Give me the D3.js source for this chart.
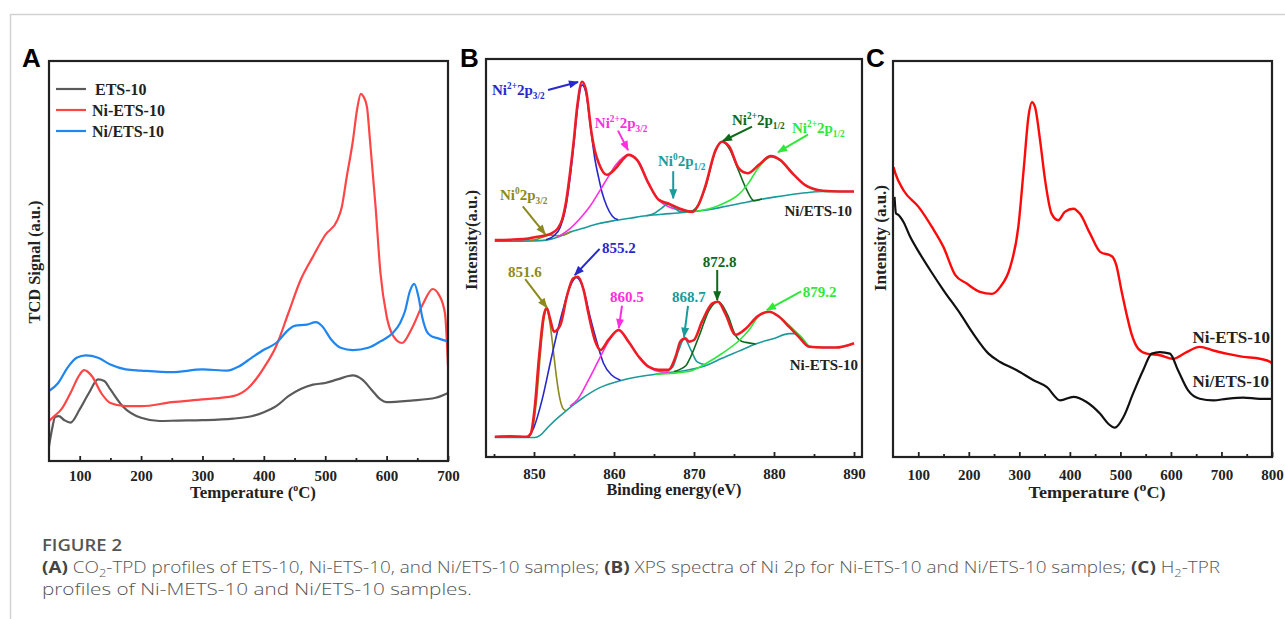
<!DOCTYPE html>
<html>
<head>
<meta charset="utf-8">
<script src="https://cdn.jsdelivr.net/npm/d3@7"></script>
<style>
  body { margin: 0; background: #fff; }
  svg { display: block; }
</style>
</head>
<body>
<svg id="fig" width="1285" height="619"></svg>
<script>
// ---------- panel A : CO2-TPD ----------
var tpdTicks = [100, 200, 300, 400, 500, 600, 700];
var tpdMinor = [150, 250, 350, 450, 550, 650];
var tpdNames = ["ETS-10", "Ni-ETS-10", "Ni/ETS-10"];
var tpdEts = [[50,3.7],[55,8],[60,11],[66,11.2],[75,10.2],[85,9.6],[100,12.9],[115,17.0],[130,20.4],[140,20.0],[150,17.9],[170,13.7],[200,10.8],[230,10.0],[260,10.1],[300,10.2],[350,10.6],[380,11.2],[400,12.2],[420,13.7],[440,16.2],[460,18.0],[480,19.1],[500,19.5],[520,20.4],[545,21.4],[560,20.4],[575,17.9],[590,15.4],[600,14.7],[640,15.1],[680,15.8],[700,17.0]];
var tpdNiEts = [[50,10.0],[60,11.4],[70,12.9],[85,17.0],[100,21.6],[107,22.7],[120,21.2],[135,17.0],[150,14.5],[175,13.7],[200,13.7],[250,14.7],[300,15.4],[350,16.2],[375,18.3],[400,23.3],[420,28.7],[440,37.0],[460,45.3],[480,51.1],[500,56.5],[520,60.3],[527,63.5],[535,71],[545,80],[552,88],[558,91.8],[562,91.2],[568,88.5],[573,80.0],[582,63.6],[590,47.0],[600,36.2],[611,31.2],[625,29.5],[640,32.8],[660,39.5],[675,43.0],[685,41.6],[695,37.0],[700,23.7]];
var tpdNiSlash = [[50,17.5],[65,19.5],[80,23.3],[95,25.8],[110,26.4],[130,25.8],[150,24.1],[175,22.9],[200,22.6],[250,22.2],[300,22.9],[340,22.6],[360,23.7],[380,25.8],[400,27.8],[420,29.5],[440,32.8],[450,33.8],[470,34.1],[485,34.7],[495,33.7],[510,30.3],[525,28.3],[545,27.7],[570,28.3],[590,29.9],[610,32.0],[622,34.5],[630,37.5],[638,42.5],[645,44.3],[652,41],[658,36],[665,32.5],[672,31.3],[685,30.6],[700,29.9]];

// ---------- panel B : XPS Ni 2p ----------
var xpsTicks = [850, 860, 870, 880, 890];
var xpsMinor = [845, 855, 865, 875, 885];
// upper spectrum, Ni/ETS-10
var topFit = [[845.1,54.5],[847,54.6],[849,54.8],[850.1,55.2],[851.2,55.6],[852.2,56.2],[853,57.5],[853.5,59.5],[854,64],[854.5,71.3],[855,80],[855.4,88.0],[856.0,94.3],[856.5,92.2],[857.2,81.3],[857.6,77],[858.1,73.8],[859.1,70.9],[860.2,72.5],[861.0,74.5],[861.8,75.9],[862.9,74.6],[864.3,68.8],[865.6,64.6],[866.8,63.7],[868.1,62.5],[869.8,61.6],[870.6,63.5],[871.4,67.9],[872.7,77.1],[873.5,79.2],[874.4,78.0],[875.6,72.5],[876.7,71.3],[878.1,73.4],[879.6,75.6],[880.8,74.6],[882.3,71.3],[883.9,68.3],[886.1,66.9],[888.2,66.7],[890,66.7]];
var topBase = [[845.1,54.2],[850,54.3],[851.5,54.5],[853,55.3],[854.5,56.5],[856,57.4],[858,58.6],[860,59.4],[862,60.0],[864,60.6],[866,61.0],[868,61.3],[870,61.7],[872,62.2],[874,63.0],[876,63.8],[878,64.6],[880,65.3],[882,65.9],[884,66.4],[886,66.7],[890,66.7]];
var topNi0a = [[849.5,54.4],[850.5,54.8],[851.3,55.4],[852,55.8],[852.8,55.6],[853.6,55.7],[854.5,56.5]];
var topNi2a = [[851.5,54.6],[852.5,55.6],[853.3,57.8],[854,63],[854.5,70],[855,79],[855.4,87.0],[856.0,93.5],[856.5,91.5],[857.0,84],[857.6,75],[858.1,70],[858.5,66.5],[859.1,63.0],[859.8,60.5],[860.5,59.6]];
var topSat2a = [[853,55.3],[854.5,57.4],[856,60.5],[857,63.0],[858.1,66.5],[859.1,69.8],[860.2,73.3],[861.8,75.9],[863.1,74.2],[864.3,68.8],[865.6,64.6],[866.8,62.9],[868.5,62.0],[870,61.8]];
var topNi0b = [[864,60.6],[865,61.2],[866,62.6],[866.7,63.5],[867.4,62.8],[868.3,61.6],[869.5,61.6]];
var topNi2b = [[869.5,61.6],[870.2,62.4],[871.4,67.5],[872.7,77.0],[873.5,79.2],[874.4,77.5],[875.6,71.8],[876.5,67.5],[877.5,64.4],[878.5,64.8]];
var topSat2b = [[869,61.5],[871,62.0],[872.7,62.9],[874.5,64.5],[875.6,66.0],[876.7,68.5],[878.1,72.8],[879.6,75.4],[880.8,74.5],[882.3,71.3],[883.9,68.3],[885.5,66.9],[887,66.7]];
// lower spectrum, Ni-ETS-10
var botFit = [[845.1,5.1],[847,5.2],[849.1,5.1],[849.6,5.9],[850.1,12.6],[850.6,24.4],[851.2,35.3],[851.6,37.4],[852.0,34.8],[852.5,31.5],[853.3,33.2],[854.1,40.3],[854.9,44.9],[855.5,45.3],[856.2,42.0],[856.8,36.1],[857.6,29.4],[858.3,26.9],[859.3,29.4],[860.6,31.9],[861.8,29.0],[863.1,25.2],[864.3,22.7],[865.6,21.9],[866.8,21.9],[867.7,25.2],[868.3,29.0],[868.9,29.8],[869.4,29.0],[870.0,29.4],[871.0,34.0],[872.3,38.6],[873.0,39.0],[873.9,36.1],[875.2,30.7],[876.5,32.3],[877.9,35.3],[879.4,36.5],[880.6,35.3],[881.9,32.7],[883.1,30.2],[884.4,27.7],[886.1,27.5],[887.7,27.5],[890.0,28.6]];
var botBase = [[845.1,4.9],[850.1,4.9],[850.8,5.5],[851.8,7.6],[853.0,9.9],[853.9,11.4],[855,13.2],[856.0,14.7],[858.1,17.3],[861.0,19.3],[865.2,20.8],[869.4,21.9],[871.5,23.0],[873.5,24.8],[875.6,26.6],[877.7,28.4],[880,29.8],[881.9,31.0],[882.6,31.0],[883.5,29.5],[884.4,27.7],[886.1,27.5],[887.7,27.5],[890,28.6]];
var botNi0a = [[849.3,5.0],[849.8,7],[850.3,14],[850.8,26],[851.3,35.5],[851.6,37.2],[852.0,33.5],[852.4,27],[852.8,20.2],[853.2,15],[853.6,12.3],[854.0,11.6]];
var botNi2a = [[849.3,4.9],[850.0,7.5],[851.0,14.3],[852.2,25.2],[853.5,36.1],[854.5,42.8],[855.3,45.1],[856.2,42.0],[857.0,35.3],[857.9,28.6],[858.7,23.5],[859.7,20.6],[860.8,19.3]];
var botSat2a = [[854.5,12.8],[855.5,14.6],[856.8,19.3],[858.1,24.4],[859.3,29.0],[860.5,31.9],[861.8,29.0],[863.1,25.2],[864.3,22.7],[865.6,21.5],[867,21.3]];
var botNi0b = [[866.5,21.6],[867.3,22.5],[868.1,26.9],[868.8,29.8],[869.6,26.9],[870.4,23.9],[871.4,23.2]];
var botNi2b = [[867.5,21.5],[869.0,23.0],[869.4,24.4],[870.6,30.2],[871.9,36.9],[873.0,39.0],[874.2,35.7],[875.2,30.5],[876.0,29.0],[876.5,28.8],[877.7,28.4]];
var botSat2b = [[865.2,20.8],[869.4,21.5],[871.5,23.5],[873.5,26.0],[875.6,29.2],[876.9,32.0],[878.1,35.4],[879.4,36.5],[880.8,35.0],[882.3,32.3],[883.5,30.0],[884.4,27.9],[885.5,27.5]];
// peak labels: text parts, anchor [eV, a.u.], arrow from, arrow to
var topNotes = [
  [["Ni", ["2+", "sup"], "2p", ["3/2", "sub"]], [844.75, 91], [851.75, 92.2], [855.5, 94.2]],
  [["Ni", ["2+", "sup"], "2p", ["3/2", "sub"]], [857.6, 82.7], [860.5, 82.0], [861.75, 77.1]],
  [["Ni", ["0", "sup"], "2p", ["1/2", "sub"]], [865.5, 73.1], [867.4, 71.8], [867.4, 65.0]],
  [["Ni", ["2+", "sup"], "2p", ["1/2", "sub"]], [874.75, 83.4], [877.25, 83.0], [873.6, 79.4]],
  [["Ni", ["2+", "sup"], "2p", ["1/2", "sub"]], [882.25, 81.4], [884.25, 81.0], [880.5, 76.6]],
  [["Ni", ["0", "sup"], "2p", ["3/2", "sub"]], [845.75, 64.6], [848.6, 63.0], [851.4, 56.0]]
];
var botNotes = [
  [["855.2"], [858.5, 51.3], [858.2, 52.3], [855.1, 45.7]],
  [["851.6"], [846.75, 45.2], [848.9, 44.7], [851.6, 37.6]],
  [["860.5"], [859.5, 38.9], [861.0, 38.0], [860.6, 32.4]],
  [["868.7"], [867.25, 38.9], [869.25, 38.0], [868.75, 30.2]],
  [["872.8"], [871.1, 47.7], [872.9, 47.0], [872.9, 39.4]],
  [["879.2"], [883.6, 40.2], [883.4, 41.6], [879.1, 36.9]]
];
var xpsSamples = ["Ni/ETS-10", "Ni-ETS-10"];
var xpsSampleAt = [[889.75, 60.6], [890.5, 21.9]];

// ---------- panel C : H2-TPR ----------
var tprTicks = [100, 200, 300, 400, 500, 600, 700, 800];
var tprMinor = [150, 250, 350, 450, 550, 650, 750];
var tprNames = ["Ni-ETS-10", "Ni/ETS-10"];
var tprNameAt = [[796, 28.8], [794, 17.7]];
var tprNiEts = [[51,73.2],[55,71.5],[71,67.3],[101,63.1],[127,58.1],[150,53.0],[173,46.0],[196,43.8],[222,41.7],[246,41.2],[262,42.9],[282,48.0],[298,58.1],[309,73.2],[318,85.9],[325,89.6],[331,88.4],[341,80.0],[351,69.9],[364,61.4],[377,59.8],[390,61.9],[407,62.7],[420,61.4],[440,56.4],[460,51.8],[483,50.7],[492,48.4],[502,42.1],[512,36.2],[522,31.1],[535,27.4],[552,26.1],[578,25.7],[604,24.8],[631,26.5],[657,27.8],[684,26.9],[710,26.1],[743,25.3],[776,24.8],[797,24.0],[800,23.5]];
var tprNiSlash = [[53,65.7],[56,61.5],[60,61.2],[71,59.3],[84,55.6],[101,51.8],[124,47.1],[150,42.1],[183,36.2],[209,31.1],[239,26.1],[262,24.0],[295,21.9],[328,19.4],[354,17.7],[381,14.3],[407,15.2],[433,13.9],[460,10.9],[476,8.4],[489,7.4],[506,10.1],[525,16.0],[545,21.9],[562,26.1],[578,26.5],[598,26.1],[614,21.9],[634,16.8],[657,14.7],[684,14.3],[710,14.7],[743,15.0],[776,14.7],[800,14.7]];

// ---------- drawing ----------
var serif = '"Liberation Serif", "Times New Roman", serif';
var svg = d3.select("#fig");
svg.append("rect").attr("width", 1285).attr("height", 619).attr("fill", "#fff");

// page frame
svg.append("path").attr("d", "M10.5,619V14.5H1285")
  .attr("fill", "none").attr("stroke", "#d2d2d2").attr("stroke-width", 1.5);

var defs = svg.append("defs");
function arrowHead(color) {
  var id = "ah" + color.replace("#", "");
  if (defs.select("#" + id).empty()) {
    defs.append("marker").attr("id", id)
      .attr("viewBox", "0 0 10 8").attr("refX", 9).attr("refY", 4)
      .attr("markerWidth", 11).attr("markerHeight", 8)
      .attr("markerUnits", "userSpaceOnUse").attr("orient", "auto")
      .append("path").attr("d", "M0,0L10,4L0,8Z").attr("fill", color);
  }
  return "url(#" + id + ")";
}

// text with sup / sub parts
function richText(sel, parts, size) {
  var cur = 0;
  parts.forEach(function (p) {
    var txt = typeof p === "string" ? p : p[0];
    var kind = typeof p === "string" ? "" : p[1];
    var target = kind === "sup" ? -0.42 * size : kind === "sub" ? 0.28 * size : 0;
    sel.append("tspan").attr("dy", target - cur)
      .attr("font-size", kind ? size * 0.62 : size).text(txt);
    cur = target;
  });
}

function panel(box, xDomain, major, minor, pad) {
  var g = svg.append("g");
  var x = d3.scaleLinear().domain(xDomain).range([box.l, box.r]);
  var y = d3.scaleLinear().domain([0, 100]).range([box.b, box.t]);
  var ax = g.append("g").attr("transform", "translate(0," + box.b + ")")
    .call(d3.axisBottom(x).tickValues(major).tickSize(-5).tickPadding(pad).tickFormat(d3.format("d")));
  var mi = g.append("g").attr("transform", "translate(0," + box.b + ")")
    .call(d3.axisBottom(x).tickValues(minor).tickSize(-3).tickFormat(""));
  [ax, mi].forEach(function (a) {
    a.select(".domain").remove();
    a.selectAll("line").attr("stroke", "#222").attr("stroke-width", 1.8);
  });
  ax.attr("font-family", null).attr("font-size", null);
  ax.selectAll("text").style("font-family", serif).style("font-weight", "bold")
    .style("font-size", "15px").attr("fill", "#222");
  return { g: g, x: x, y: y, box: box };
}

function frame(p) {
  p.g.append("rect").attr("x", p.box.l).attr("y", p.box.t)
    .attr("width", p.box.r - p.box.l).attr("height", p.box.b - p.box.t)
    .attr("fill", "none").attr("stroke", "#222").attr("stroke-width", 2.2);
}

function curve(p, data, color, w) {
  var line = d3.line().x(function (d) { return p.x(d[0]); })
    .y(function (d) { return p.y(d[1]); }).curve(d3.curveMonotoneX);
  p.g.append("path").datum(data).attr("d", line).attr("fill", "none")
    .attr("stroke", color).attr("stroke-width", w).attr("stroke-linejoin", "round");
}

function label(txt, x, y, opts) {
  var t = svg.append("text").attr("x", x).attr("y", y)
    .attr("font-family", opts.family || serif).attr("font-weight", opts.weight || "bold")
    .attr("font-size", opts.size).attr("fill", opts.fill || "#222")
    .attr("text-anchor", opts.anchor || "start");
  if (txt) t.text(txt);
  if (opts.rotate) t.attr("transform", "rotate(-90," + x + "," + y + ")");
  if (opts.len) t.attr("textLength", opts.len).attr("lengthAdjust", "spacingAndGlyphs");
  return t;
}

function tempTitle(x, y, len, supSize) {
  var t = label("", x, y, { size: 17, anchor: "middle", len: len });
  t.append("tspan").text("Temperature (");
  t.append("tspan").attr("dy", -7).attr("font-size", supSize).text("o");
  t.append("tspan").attr("dy", 7).text("C)");
}

// panel letters
var sans = '"Liberation Sans", Arial, sans-serif';
[["A", 22], ["B", 460], ["C", 866]].forEach(function (d) {
  label(d[0], d[1], 67, { size: 26, family: sans, fill: "#000" });
});

// ----- A -----
var pA = panel({ l: 49, t: 61, r: 448, b: 461 }, [50, 700], tpdTicks, tpdMinor, 9);
var tpdColors = ["#5a5a5a", "#ff4646", "#1e86ee"];
[tpdEts, tpdNiEts, tpdNiSlash].forEach(function (s, i) { curve(pA, s, tpdColors[i], 2.2); });
tpdNames.forEach(function (n, i) {
  var yy = pA.box.t + 28 + i * 21;
  pA.g.append("line").attr("x1", pA.box.l + 7).attr("x2", pA.box.l + 37)
    .attr("y1", yy).attr("y2", yy).attr("stroke", tpdColors[i]).attr("stroke-width", 2.2);
  label(n, pA.box.l + (i === 0 ? 46 : 43), yy + 6, { size: 16 });
});
frame(pA);
tempTitle(253, 498, 126, 10);
label("TCD Signal (a.u.)", 40, 262, { size: 16.5, anchor: "middle", rotate: true, len: 123 });

// ----- B -----
var pB = panel({ l: 486, t: 59, r: 862, b: 457 }, [844, 891], xpsTicks, xpsMinor, 11);
var cTeal = "#1a9a9a", cOlive = "#8c8a1e", cBlue = "#2828cc", cMag = "#ff2ee0",
    cDk = "#0d6a1c", cLt = "#30e83a", cRed = "#ee1c24";
var topSet = [[topBase, cTeal], [topNi0a, cOlive], [topNi2a, cBlue], [topSat2a, cMag],
              [topNi0b, cTeal], [topNi2b, cDk], [topSat2b, cLt]];
var botSet = [[botBase, cTeal], [botNi0a, cOlive], [botNi2a, cBlue], [botSat2a, cMag],
              [botNi0b, cTeal], [botNi2b, cDk], [botSat2b, cLt]];
topSet.concat(botSet).forEach(function (s) { curve(pB, s[0], s[1], 1.6); });
curve(pB, topFit, cRed, 2.6);
curve(pB, botFit, cRed, 2.6);
var topColors = [cBlue, cMag, cTeal, cDk, cLt, cOlive];
var botColors = [cBlue, cOlive, cMag, cTeal, cDk, cLt];
function notes(list, colors) {
  list.forEach(function (n, i) {
    var c = colors[i];
    pB.g.append("line").attr("x1", pB.x(n[2][0])).attr("y1", pB.y(n[2][1]))
      .attr("x2", pB.x(n[3][0])).attr("y2", pB.y(n[3][1]))
      .attr("stroke", c).attr("stroke-width", 2).attr("marker-end", arrowHead(c));
    var t = label("", pB.x(n[1][0]), pB.y(n[1][1]), { size: 15, fill: c });
    richText(t, n[0], 15);
  });
}
notes(topNotes, topColors);
notes(botNotes, botColors);
xpsSamples.forEach(function (s, i) {
  label(s, pB.x(xpsSampleAt[i][0]), pB.y(xpsSampleAt[i][1]), { size: 15, anchor: "end" });
});
frame(pB);
label("Binding energy(eV)", 674, 495, { size: 17, anchor: "middle", len: 135 });
label("Intensity(a.u.)", 477, 240, { size: 16.5, anchor: "middle", rotate: true, len: 100 });

// ----- C -----
var pC = panel({ l: 893, t: 61, r: 1272, b: 457 }, [50, 800], tprTicks, tprMinor, 12);
curve(pC, tprNiEts, "#ff0a0a", 2.4);
curve(pC, tprNiSlash, "#111", 2.2);
tprNames.forEach(function (n, i) {
  label(n, pC.x(tprNameAt[i][0]), pC.y(tprNameAt[i][1]), { size: 17, anchor: "end" });
});
frame(pC);
tempTitle(1097, 498, 137, 13);
label("Intensity (a.u.)", 886, 238, { size: 16.5, anchor: "middle", rotate: true, len: 106 });

// ---------- caption ----------
var capFont = '"Open Sans", "Noto Sans", sans-serif';
label("FIGURE 2", 42, 551, { size: 16, family: capFont, weight: 600, fill: "#555", len: 80 });
var cap1 = label("", 42, 573, { size: 16, family: capFont, weight: 300, fill: "#555", len: 1178 });
[["(A)", 1], [" CO", 0], ["2", 2], ["-TPD profiles of ETS-10, Ni-ETS-10, and Ni/ETS-10 samples; ", 0],
 ["(B)", 1], [" XPS spectra of Ni 2p for Ni-ETS-10 and Ni/ETS-10 samples; ", 0],
 ["(C)", 1], [" H", 0], ["2", 2], ["-TPR", 0]].forEach(function (p, i, arr) {
  var t = cap1.append("tspan").text(p[0]);
  if (p[1] === 1) t.attr("font-weight", "bold").attr("fill", "#444");
  if (p[1] === 2) t.attr("dy", 4).attr("font-size", 11);
  if (i > 0 && arr[i - 1][1] === 2) t.attr("dy", -4);
});
label("profiles of Ni-METS-10 and Ni/ETS-10 samples.", 42, 595,
  { size: 16, family: capFont, weight: 300, fill: "#555", len: 430 });
</script>
</body>
</html>
